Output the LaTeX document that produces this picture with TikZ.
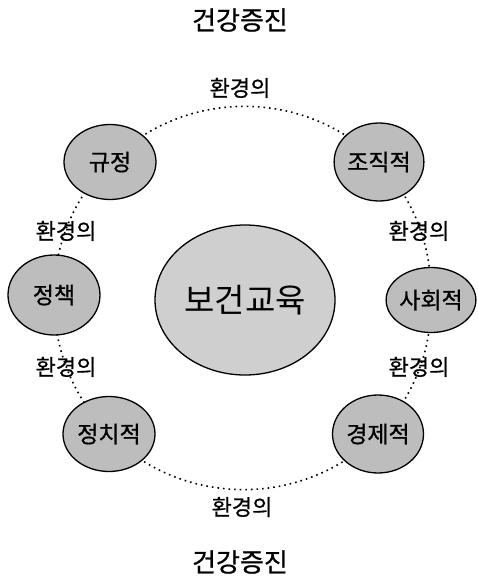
\documentclass[tikz,border=0pt]{standalone}
\usepackage{fontspec}
\newfontfamily\kr[FakeBold=0.8]{Noto Sans CJK KR}
\newfontfamily\krl{Noto Sans CJK KR}
\usetikzlibrary{shapes.geometric,backgrounds}
\begin{document}
\begin{tikzpicture}[x=1pt,y=-1pt,
  blob/.style={ellipse,draw=black,line width=1.3pt,fill=black!26,inner sep=0pt,font=\kr\fontsize{23}{23}\selectfont},
  dots/.style={line width=1.6pt,dash pattern=on 1.6pt off 4pt},
  lbl/.style={font=\kr\fontsize{22}{22}\selectfont,inner sep=0pt},
  ttl/.style={font=\kr\fontsize{26}{26}\selectfont,inner sep=0pt}]
\useasboundingbox (0,0) rectangle (477,585);
\node[ttl] (t1) at (240,20) {건강증진};
\node[ttl] (t2) at (240,562) {건강증진};
\node[blob,minimum width=92pt,minimum height=75pt] (gj) at (110,162) {규정};
\node[blob,minimum width=88pt,minimum height=78pt] (jj) at (379,162) {조직적};
\node[blob,minimum width=92pt,minimum height=80pt] (jc) at (54,295) {정책};
\node[blob,minimum width=86pt,minimum height=65pt] (sh) at (431,300) {사회적};
\node[blob,minimum width=92pt,minimum height=75pt] (jcj) at (109,434) {정치적};
\node[blob,minimum width=91pt,minimum height=78pt] (gjj) at (378,434) {경제적};
\node[blob,fill=black!19,minimum width=180pt,minimum height=150pt,font=\krl\fontsize{33}{33}\selectfont] (bg) at (245,300) {보건교육};
\begin{scope}[on background layer]
\draw[dots] (jj.center) to[bend right=45] (gj.center);
\draw[dots] (gj.center) to[bend right=22.5,looseness=0.9] (jc.center);
\draw[dots] (jc.center) to[bend right=22.5,looseness=0.9] (jcj.center);
\draw[dots] (jcj.center) to[bend right=45] (gjj.center);
\draw[dots] (gjj.center) to[bend right=22.5,looseness=0.9] (sh.center);
\draw[dots] (sh.center) to[bend right=22.5,looseness=0.9] (jj.center);
\end{scope}
\node[lbl] (l1) at (240,88) {환경의};
\node[lbl] (l2) at (66,231) {환경의};
\node[lbl] (l3) at (66,367) {환경의};
\node[lbl] (l4) at (419,231) {환경의};
\node[lbl] (l5) at (419,367) {환경의};
\node[lbl] (l6) at (242,507) {환경의};
\end{tikzpicture}
\end{document}
